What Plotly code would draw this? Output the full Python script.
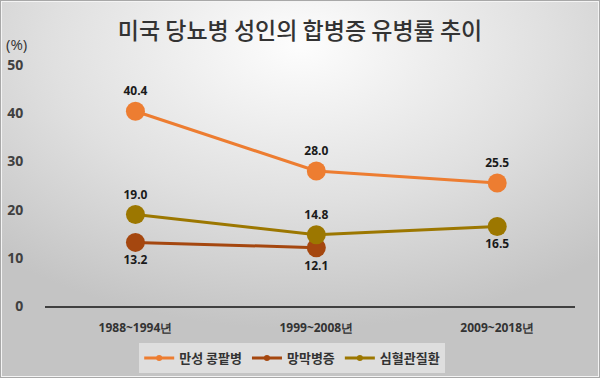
import base64
import plotly.graph_objects as go

categories = ["1988~1994년", "1999~2008년", "2009~2018년"]
neuropathy = [40.4, 28.0, 25.5]
retinopathy = [13.2, 12.1, None]
cardio = [19.0, 14.8, 16.5]
y_ticks = [0, 10, 20, 30, 40, 50]

W, H = 600, 378
L, R, T, B = 45, 25, 65, 72

svg = f'''<svg xmlns="http://www.w3.org/2000/svg" width="{W}" height="{H}" viewBox="0 0 {W} {H}" preserveAspectRatio="none">
<defs><radialGradient id="g" cx="0.5" cy="0.12" r="0.75" fx="0.5" fy="0.12">
<stop offset="0" stop-color="#fdfdfd"/><stop offset="0.55" stop-color="#e0e0e0"/><stop offset="1" stop-color="#c4c4c4"/>
</radialGradient></defs>
<rect x="0" y="0" width="{W}" height="{H}" fill="url(#g)"/>
<rect x="1.5" y="1.5" width="{W-3}" height="{H-3}" fill="none" stroke="#f4f4f4" stroke-width="1"/>
<rect x="0.5" y="0.5" width="{W-1}" height="{H-1}" fill="none" stroke="#a8a8a8" stroke-width="1"/>
</svg>'''
src = "data:image/svg+xml;base64," + base64.b64encode(svg.encode()).decode()

pw = W - L - R
ph = H - T - B

fig = go.Figure()

def add(name, vals, color, positions):
    fig.add_trace(go.Scatter(
        x=categories, y=vals, name=name, mode="lines+markers+text",
        line=dict(color=color, width=3),
        marker=dict(color=color, size=19),
        text=[None if v is None else f"{v:.1f}" for v in vals],
        textposition=positions,
        textfont=dict(family="Open Sans, sans-serif", size=12, color="#1a1a1a", weight="bold"),
        cliponaxis=False, showlegend=False,
    ))
    fig.add_trace(go.Scatter(
        x=[None], y=[None], name=name, mode="lines+markers",
        line=dict(color=color, width=3), marker=dict(color=color, size=6),
        showlegend=True,
    ))

add("만성 콩팥병", neuropathy, "#ED7D31", ["top center", "top center", "top center"])
add("망막병증", retinopathy, "#A5470F", ["bottom center", "bottom center", "bottom center"])
add("심혈관질환", cardio, "#9C7700", ["top center", "top center", "bottom center"])

fig.update_layout(
    width=W, height=H,
    margin=dict(l=L, r=R, t=T, b=B, autoexpand=False),
    paper_bgcolor="#d8d8d8", plot_bgcolor="rgba(0,0,0,0)",
    images=[dict(source=src, xref="paper", yref="paper",
                 x=-L / pw, y=1 + T / ph, sizex=W / pw, sizey=H / ph,
                 xanchor="left", yanchor="top", sizing="stretch", layer="below")],
    title=dict(text="미국 당뇨병 성인의 합병증 유병률 추이", x=0.5, xref="container", xanchor="center",
               y=1 - 31 / H, yref="container", yanchor="middle",
               font=dict(family="Noto Sans CJK KR", size=23, color="#333333", weight=500)),
    showlegend=True,
    legend=dict(orientation="h", x=0.487, xanchor="center", xref="container",
                y=-(358 - 306) / ph, yanchor="middle",
                bgcolor="rgba(225,225,225,0.9)",
                font=dict(family="Noto Sans CJK KR", size=13, color="#333333", weight="bold"),
                itemwidth=30, tracegroupgap=0),
    annotations=[dict(text="(%)", xref="paper", yref="paper", x=-L / pw + 4 / pw, y=1 + (T - 44) / ph,
                      xanchor="left", yanchor="middle", showarrow=False,
                      font=dict(family="Open Sans, sans-serif", size=15, color="#333333"))],
)
fig.update_xaxes(showline=True, linecolor="#404040", linewidth=2, range=[-0.5, 2.43],
                 showgrid=False, zeroline=False, ticks="outside", ticklen=10, automargin=False,
                 tickcolor="rgba(0,0,0,0)",
                 tickfont=dict(family="Open Sans, sans-serif", size=12, color="#333333", weight="bold"))
fig.update_yaxes(range=[0, 50], tickvals=y_ticks, showgrid=False, zeroline=False, showline=False,
                 ticks="outside", ticklen=18, tickcolor="rgba(0,0,0,0)", automargin=False,
                 tickfont=dict(family="Open Sans, sans-serif", size=14, color="#404040", weight="bold"))

fig.write_html("out.html", config={"displayModeBar": False},
               post_script="document.body.style.margin='0';document.body.style.overflow='hidden';")
